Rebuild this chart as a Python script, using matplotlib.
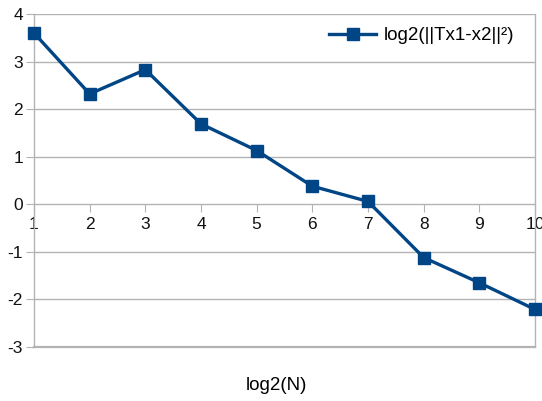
import matplotlib
matplotlib.use("Agg")
import matplotlib.pyplot as plt

x_vals = [1, 2, 3, 4, 5, 6, 7, 8, 9, 10]
y_vals = [3.60, 2.32, 2.83, 1.69, 1.13, 0.38, 0.06, -1.12, -1.65, -2.21]
series_label = "log2(||Tx1-x2||²)"
x_label = "log2(N)"
y_ticks = [-3, -2, -1, 0, 1, 2, 3, 4]

plt.rcParams['font.family'] = ['Liberation Sans', 'DejaVu Sans']
plt.rcParams['axes.unicode_minus'] = False

W, H = 542, 401
fig = plt.figure(figsize=(W/100, H/100), dpi=100)
left, right, top, bottom = 34, 535, 14, 347
ax = fig.add_axes([left/W, 1 - bottom/H, (right-left)/W, (bottom-top)/H])

grid_c = '#b3b3b3'
ax.set_xlim(1, 10)
ax.set_ylim(-3, 4)
ax.set_yticks(y_ticks)
ax.yaxis.grid(True, color=grid_c, linewidth=1.0)
ax.set_axisbelow(True)
ax.tick_params(axis='y', direction='out', length=6, color=grid_c, labelsize=12.5, pad=2, labelcolor='#111111')
ax.tick_params(axis='x', bottom=False, labelbottom=False)
for s in ['left', 'right']:
    ax.spines[s].set_color(grid_c)
    ax.spines[s].set_linewidth(1.0)
ax.spines['bottom'].set_color(grid_c)
ax.spines['bottom'].set_linewidth(1.6)
ax.spines['top'].set_visible(False)

sec = ax.secondary_xaxis(3/7)
sec.set_xticks(x_vals)
sec.tick_params(axis='x', direction='out', length=6, color=grid_c, labelsize=12.5, pad=3, labelcolor='#111111')
sec.spines['bottom'].set_visible(False)

ax.plot(x_vals, y_vals, color='#004586', linewidth=2.4, marker='s', markersize=9,
        label=series_label, clip_on=False, zorder=5)

ax.set_xlabel(x_label, fontsize=13.5)
ax.xaxis.set_label_coords((276 - left) / (right - left), -(385 - bottom) / (bottom - top))
ax.xaxis.label.set_va('center')
leg = ax.legend(loc='upper right', frameon=False, fontsize=13.5, handlelength=2.5,
                handletextpad=0.4, bbox_to_anchor=(0.985, 1.0), borderaxespad=0.3)

fig.savefig('out.png', dpi=100)
